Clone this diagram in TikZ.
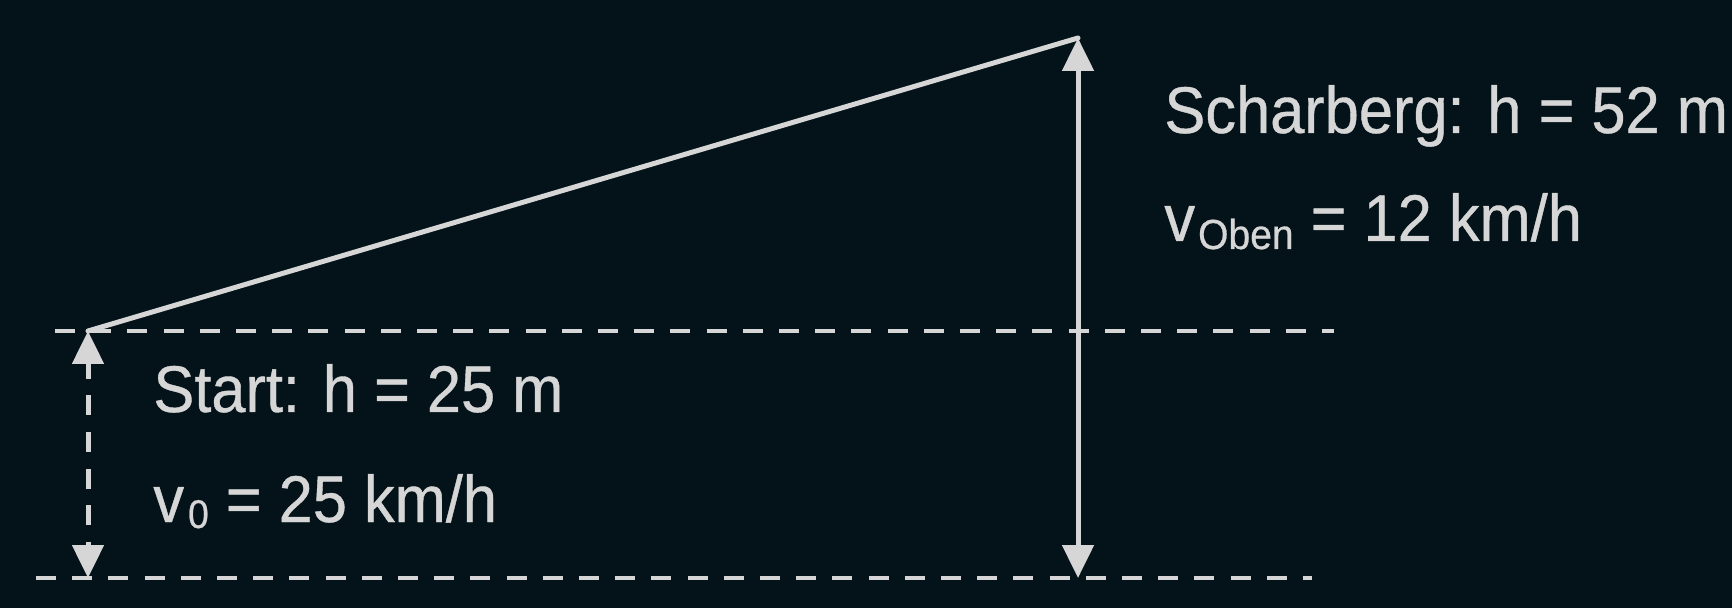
\documentclass[tikz,border=0pt]{standalone}
\usepackage{fontspec}
\setmainfont[FakeStretch=0.93,FakeBold=0.6]{Liberation Sans}
\usetikzlibrary{arrows.meta}
\definecolor{bg}{RGB}{3,19,25}
\definecolor{fg}{RGB}{214,214,214}
\begin{document}
\begin{tikzpicture}[x=0.5pt,y=-0.5pt,
  guide/.style={draw=fg, line width=2.3pt, dash pattern=on 10pt off 8.1pt},
  solidline/.style={draw=fg, line width=2.5pt},
  dashedarrow/.style={draw=fg, line width=2.5pt, dash pattern=on 10pt off 8.3pt, dash phase=2pt},
  bothtips/.style={{Triangle[width=15.5pt,length=16.5pt]}-{Triangle[width=15.5pt,length=16.5pt]}},
  lbl/.style={text=fg, inner sep=0pt, anchor=base west, font=\fontsize{33}{39}\selectfont}]
\fill[bg] (0,0) rectangle (1732,608);
\useasboundingbox (0,0) rectangle (1732,608);
% reference lines
\coordinate (ul) at (55,331);
\coordinate (ur) at (1334,331);
\coordinate (ll) at (36,578);
\coordinate (lr) at (1312,578);
\coordinate (start) at (88,331);
\coordinate (startbot) at (88,578);
\coordinate (top) at (1078,38);
\coordinate (topbot) at (1078,578);
\draw[guide] (ul) -- (ur);
\draw[guide] (ll) -- (lr);
% slope
\draw[solidline, line cap=round] (start) -- (top);
% height arrows
\draw[solidline, bothtips] (topbot) -- (top);
\draw[dashedarrow, bothtips] (start) -- (startbot);
% labels
\node[lbl] (startlbl) at (153,412) {Start: h = 25 m};
\node[lbl] (vnull) at (153,522) {v\kern2pt\raisebox{-3pt}{\fontsize{20}{22}\selectfont 0} = 25 km/h};
\node[lbl] (schlbl) at (1164,133) {Scharberg: h = 52 m};
\node[lbl] (voben) at (1164,241) {v\kern1.5pt\raisebox{-4pt}{\fontsize{21}{22}\selectfont Oben} = 12 km/h};
\end{tikzpicture}
\end{document}
